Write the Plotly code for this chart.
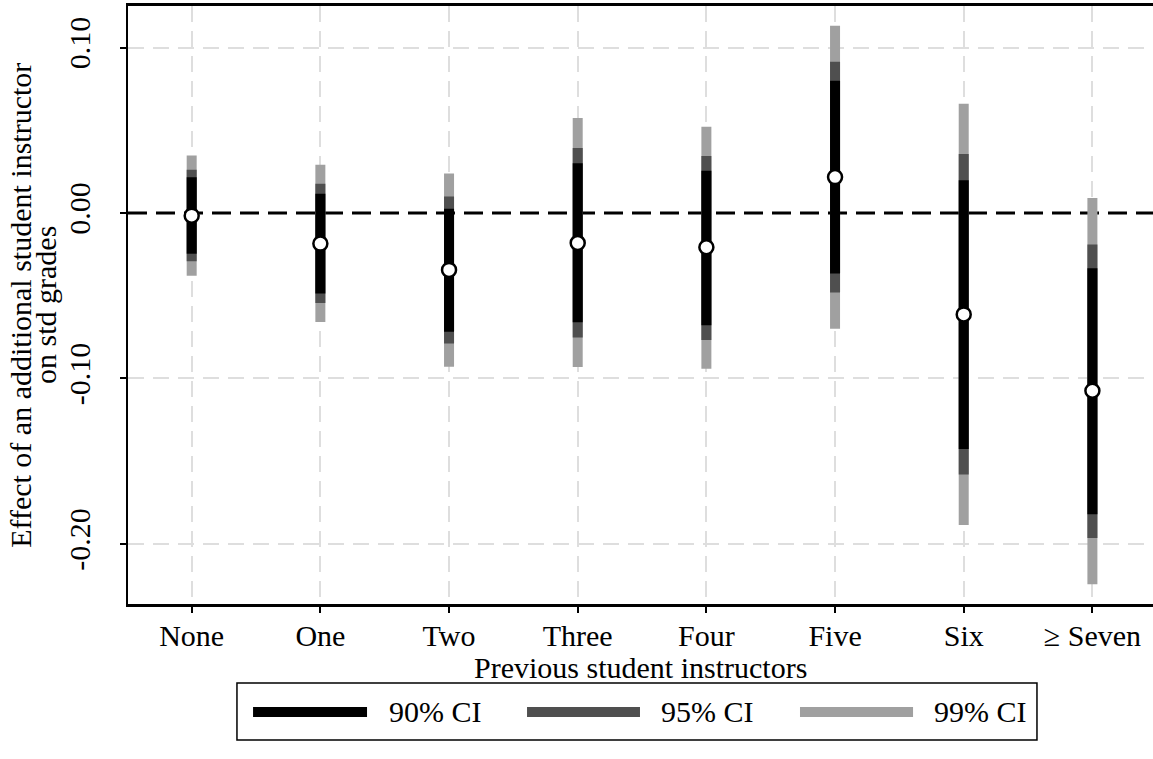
import plotly.graph_objects as go

# ---- data ----
categories = ["None", "One", "Two", "Three", "Four", "Five", "Six", "\u2265 Seven"]
estimate = [-0.0016, -0.0185, -0.0344, -0.0181, -0.0207, 0.0217, -0.0613, -0.1074]
ci90_lo = [-0.0246, -0.0487, -0.0717, -0.0661, -0.0679, -0.0365, -0.1427, -0.1821]
ci90_hi = [0.0216, 0.0117, 0.0026, 0.0300, 0.0256, 0.0800, 0.0198, -0.0334]
ci95_lo = [-0.0292, -0.0544, -0.0788, -0.0753, -0.0767, -0.0480, -0.1580, -0.1964]
ci95_hi = [0.0262, 0.0177, 0.0099, 0.0393, 0.0344, 0.0914, 0.0356, -0.0191]
ci99_lo = [-0.0379, -0.0659, -0.0929, -0.0931, -0.0942, -0.0699, -0.1885, -0.2243]
ci99_hi = [0.0348, 0.0292, 0.0238, 0.0574, 0.0522, 0.1131, 0.0661, 0.0091]
ytick_vals = [-0.2, -0.1, 0.0, 0.1]
ytick_text = ["-0.20", "-0.10", "0.00", "0.10"]
ygrid_vals = [-0.2, -0.1, 0.1]
legend_labels = ["90% CI", "95% CI", "99% CI"]
ytitle_lines = ["Effect of an additional student instructor", "on std grades"]
xtitle = "Previous student instructors"

C90, C95, C99 = "#000000", "#4f4f4f", "#a0a0a0"
GRID = "#dedede"
FONT = "Liberation Serif, Times New Roman, serif"
FS = 30

xpos = list(range(len(categories)))


def seg(lo, hi):
    xs, ys = [], []
    for i, (a, b) in enumerate(zip(lo, hi)):
        xs += [i, i, None]
        ys += [a, b, None]
    return xs, ys


fig = go.Figure()
for lo, hi, col in [(ci99_lo, ci99_hi, C99), (ci95_lo, ci95_hi, C95), (ci90_lo, ci90_hi, C90)]:
    xs, ys = seg(lo, hi)
    fig.add_trace(go.Scatter(x=xs, y=ys, mode="lines", line=dict(color=col, width=10),
                             showlegend=False, hoverinfo="skip"))

fig.add_trace(go.Scatter(x=xpos, y=estimate, mode="markers",
                         marker=dict(size=14, color="white", line=dict(color="black", width=2.5)),
                         showlegend=False))

# zero reference line
fig.add_shape(type="line", xref="paper", x0=0, x1=1, yref="y", y0=0, y1=0,
              line=dict(color="black", width=3, dash="19px,9px"), layer="below")

# y-axis title as two tightly spaced lines
for xp, line in zip([-0.1055, -0.0810], ytitle_lines):
    fig.add_annotation(xref="paper", yref="paper", x=xp, y=0.5, text=line, textangle=-90,
                       showarrow=False, xanchor="center", yanchor="middle",
                       font=dict(family=FONT, size=FS, color="black"))

# x-axis title
fig.add_annotation(xref="paper", yref="paper", x=0.5, y=-0.1054, text=xtitle, showarrow=False,
                   xanchor="center", yanchor="middle", font=dict(family=FONT, size=FS, color="black"))

# manual legend
LY = -0.1806
fig.add_shape(type="rect", xref="paper", yref="paper", x0=0.1063, x1=0.8868, y0=-0.1321, y1=-0.2274,
              line=dict(color="black", width=1.5), fillcolor="white")
samples = [(0.1220, 0.2332, C90, 0.2527), (0.3893, 0.4995, C95, 0.5180), (0.6556, 0.7659, C99, 0.7844)]
for (x0, x1, col, tx), lab in zip(samples, legend_labels):
    fig.add_shape(type="line", xref="paper", yref="paper", x0=x0, x1=x1, y0=LY, y1=LY,
                  line=dict(color=col, width=10))
    fig.add_annotation(xref="paper", yref="paper", x=tx, y=LY, text=lab, showarrow=False,
                       xanchor="left", yanchor="middle", font=dict(family=FONT, size=FS, color="black"))

fig.update_layout(
    width=1153, height=759,
    margin=dict(l=128, r=0, t=6, b=155),
    paper_bgcolor="white", plot_bgcolor="white",
    font=dict(family=FONT, size=FS, color="black"),
    showlegend=False,
)
fig.update_xaxes(
    range=[-0.495, 7.471], tickvals=xpos, ticktext=categories, automargin=False,
    showline=True, linecolor="black", linewidth=2.5, mirror=True,
    ticks="outside", ticklen=6, tickwidth=1.5, tickcolor="black",
    ticklabelstandoff=-3,
    showgrid=True, gridcolor=GRID, gridwidth=2, griddash="16px,9px",
    zeroline=False,
    tickfont=dict(family=FONT, size=FS),
)
fig.update_yaxes(
    range=[-0.2363, 0.1251], tickvals=ytick_vals, ticktext=ytick_text, tickangle=-90,
    automargin=False, ticklabelstandoff=18,
    showline=True, linecolor="black", linewidth=2, mirror=False,
    ticks="outside", ticklen=6, tickwidth=1.5, tickcolor="black",
    showgrid=False,
    minor=dict(tickvals=ygrid_vals, ticks="", showgrid=True, gridcolor=GRID, gridwidth=2,
               griddash="16px,9px"),
    zeroline=False,
    tickfont=dict(family=FONT, size=FS),
)

fig.write_html("out.html", config={"displayModeBar": False},
               post_script="document.body.style.margin='0px';")
